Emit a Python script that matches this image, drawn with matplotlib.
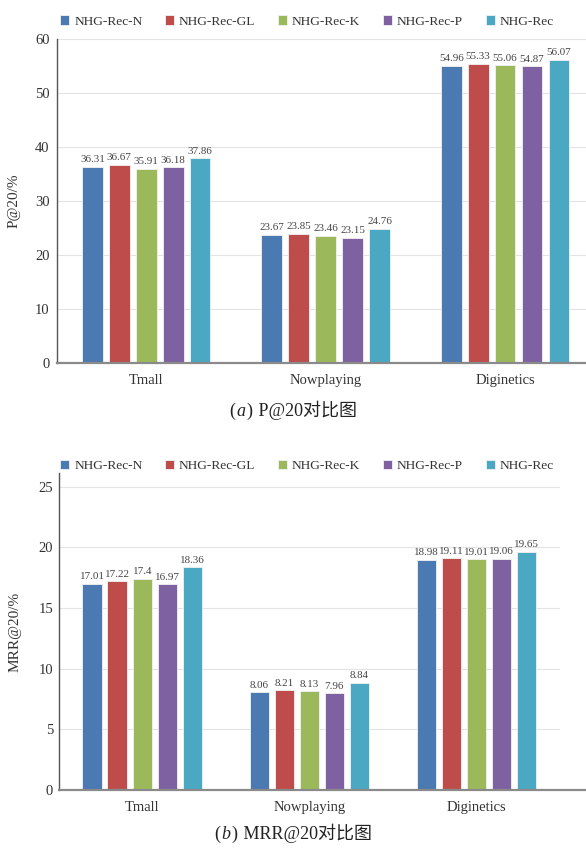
import matplotlib
matplotlib.use("Agg")
import matplotlib.pyplot as plt
from matplotlib.offsetbox import TextArea, HPacker, AnchoredOffsetbox
import numpy as np

plt.rcParams['font.family'] = ['Liberation Serif', 'Noto Sans CJK SC']

datasets = ["Tmall", "Nowplaying", "Diginetics"]
models = ["NHG-Rec-N", "NHG-Rec-GL", "NHG-Rec-K", "NHG-Rec-P", "NHG-Rec"]
colors = ["#4a7ab1", "#bd4c4a", "#9bb95a", "#7d61a0", "#4aa8c3"]

p20 = {
    "NHG-Rec-N":  [36.31, 23.67, 54.96],
    "NHG-Rec-GL": [36.67, 23.85, 55.33],
    "NHG-Rec-K":  [35.91, 23.46, 55.06],
    "NHG-Rec-P":  [36.18, 23.15, 54.87],
    "NHG-Rec":    [37.86, 24.76, 56.07],
}
mrr20 = {
    "NHG-Rec-N":  [17.01, 8.06, 18.98],
    "NHG-Rec-GL": [17.22, 8.21, 19.11],
    "NHG-Rec-K":  [17.4, 8.13, 19.01],
    "NHG-Rec-P":  [16.97, 7.96, 19.06],
    "NHG-Rec":    [18.36, 8.84, 19.65],
}
p20_labels = {
    "NHG-Rec-N":  ["36.31", "23.67", "54.96"],
    "NHG-Rec-GL": ["36.67", "23.85", "55.33"],
    "NHG-Rec-K":  ["35.91", "23.46", "55.06"],
    "NHG-Rec-P":  ["36.18", "23.15", "54.87"],
    "NHG-Rec":    ["37.86", "24.76", "56.07"],
}
mrr_labels = {
    "NHG-Rec-N":  ["17.01", "8.06", "18.98"],
    "NHG-Rec-GL": ["17.22", "8.21", "19.11"],
    "NHG-Rec-K":  ["17.4", "8.13", "19.01"],
    "NHG-Rec-P":  ["16.97", "7.96", "19.06"],
    "NHG-Rec":    ["18.36", "8.84", "19.65"],
}

fig = plt.figure(figsize=(5.86, 8.5), dpi=100)

pitch = 0.150
width = 0.116
text_col = "#333333"


def caption(letter, rest, y):
    props = dict(fontsize=13, color="#222222")
    parts = [
        TextArea("(", textprops=props),
        TextArea(letter, textprops=dict(props, style="italic")),
        TextArea(")", textprops=props),
        TextArea(" " + rest, textprops=props),
    ]
    box = HPacker(children=parts, align="baseline", pad=0, sep=1)
    anchored = AnchoredOffsetbox(loc="center", child=box, frameon=False,
                                 bbox_to_anchor=(0.5, y),
                                 bbox_transform=fig.transFigure, pad=0, borderpad=0)
    fig.add_artist(anchored)


def draw_panel(ax, data, labels, ylim, yticks, ylabel, label_x, leg_y, extend_x, pad):
    x = np.arange(len(datasets))
    for i, m in enumerate(models):
        xs = x + (i - 2) * pitch
        bars = ax.bar(xs, data[m], width=width, color=colors[i],
                      edgecolor="#f2f2f2", linewidth=0.6, label=m, zorder=3)
        for b, lab in zip(bars, labels[m]):
            ax.text(b.get_x() + b.get_width() / 2, b.get_height() + ylim[1] * 0.008,
                    lab, ha="center", va="bottom", fontsize=7.9, color="#444444")
    ax.set_xlim(-0.5, 2.5)
    ax.set_ylim(*ylim)
    ax.set_yticks(yticks)
    ax.set_xticks(x)
    ax.set_xticklabels(datasets, fontsize=10)
    ax.tick_params(axis="both", length=0, colors=text_col, labelsize=10.5)
    ax.tick_params(axis="y", pad=pad)
    ax.tick_params(axis="x", pad=8)
    ax.yaxis.grid(True, color="#e3e3e3", linewidth=0.8, zorder=0)
    ax.set_axisbelow(True)
    for s in ["top", "right"]:
        ax.spines[s].set_visible(False)
    ax.spines["left"].set_color("#555555")
    ax.spines["left"].set_linewidth(1.0)
    ax.spines["bottom"].set_visible(False)
    ax.axhline(0, xmin=0, xmax=extend_x, color="#8a8a8a", linewidth=1.6,
               clip_on=False, zorder=4)
    ax.set_ylabel(ylabel, fontsize=11, color=text_col)
    ax.yaxis.set_label_coords(label_x, 0.5)
    leg = ax.legend(loc="center", bbox_to_anchor=(307 / 586, leg_y),
                    bbox_transform=fig.transFigure, ncol=5, frameon=False,
                    fontsize=9.6, handlelength=0.7, handleheight=0.7,
                    handletextpad=0.35, columnspacing=1.7)
    for t in leg.get_texts():
        t.set_color(text_col)


ax1 = fig.add_axes([56.5 / 586, 1 - 362.7 / 850, (594.8 - 56.5) / 586, (362.7 - 38.7) / 850])
draw_panel(ax1, p20, p20_labels, (0, 60), [0, 10, 20, 30, 40, 50, 60], "P@20/%",
           -0.066, 1 - 21.5 / 850, 1.0, 5)
caption("a", "P@20对比图", 1 - 410 / 850)

ax2 = fig.add_axes([58.7 / 586, 1 - 790 / 850, (560 - 58.7) / 586, (790 - 473.3) / 850])
draw_panel(ax2, mrr20, mrr_labels, (0, 26.1), [0, 5, 10, 15, 20, 25], "MRR@20/%",
           -0.075, 1 - 466 / 850, 1.06, 4)
caption("b", "MRR@20对比图", 1 - 833 / 850)

fig.savefig("out.png", dpi=100)
